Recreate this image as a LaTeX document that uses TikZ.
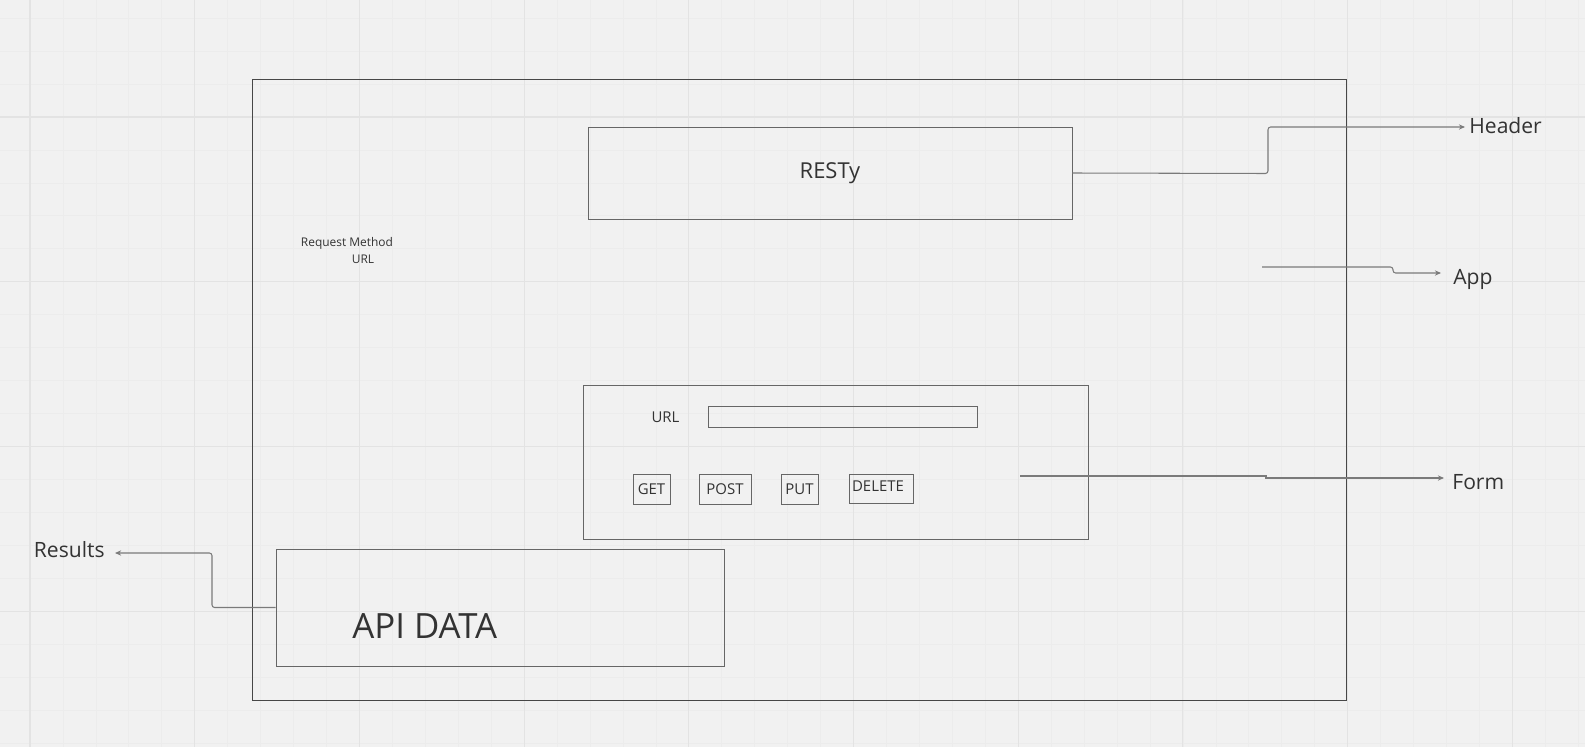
\documentclass[tikz,border=0pt]{standalone}
\usepackage{fontspec}
\setmainfont{Open Sans}
\usepackage{tikz}
\usetikzlibrary{positioning, arrows.meta}

\definecolor{bgcol}{HTML}{F1F1F1}
\definecolor{minorcol}{HTML}{ECECEC}
\definecolor{majorcol}{HTML}{E3E3E3}
\definecolor{boxcol}{HTML}{666666}
\definecolor{conncol}{HTML}{7A7A7A}
\definecolor{txtcol}{HTML}{333333}

\tikzset{
  box/.style={draw=boxcol, line width=0.5pt, inner sep=0pt},
  conn/.style={draw=conncol, line width=0.6pt, rounded corners=1.5pt, -{Stealth[length=3.5pt, width=3pt]}},
  lbl/.style={text=txtcol, inner sep=0pt, font=\fontsize{12}{14}\selectfont},
  small/.style={text=txtcol, inner sep=0pt, font=\fontsize{8.5}{10}\selectfont},
}

\begin{document}
\begin{tikzpicture}[x=0.02cm, y=-0.02cm]
    \useasboundingbox (0,0) rectangle (1585,747);
    % Draw background grid
    \fill[bgcol] (0,0) rectangle (1585,747);
    \foreach \i in {1,...,47} {
      \draw[minorcol, line width=0.4pt] ({30+\i*32.94},0) -- ({30+\i*32.94},747);
    }
    \foreach \i in {0,...,22} {
      \draw[minorcol, line width=0.4pt] (0,{18.2+\i*32.94}) -- (1585,{18.2+\i*32.94});
    }
    \foreach \i in {0,...,9} {
      \draw[majorcol, line width=0.6pt] ({30+\i*164.7},0) -- ({30+\i*164.7},747);
    }
    \foreach \i in {0,...,3} {
      \draw[majorcol, line width=0.6pt] (0,{117+\i*164.7}) -- (1585,{117+\i*164.7});
    }

    % App frame and header
    \node[box, draw=black!72, minimum width=21.9cm, minimum height=12.42cm] (appframe) at (799.5,389.5) {};
    \node[box, minimum width=9.68cm, minimum height=1.84cm, text=txtcol, font=\fontsize{12.5}{15}\selectfont] (resty) at (830,173) {RESTy};

    % Request method / URL note
    \node[text=txtcol, inner sep=0pt, font=\fontsize{6.8}{8}\selectfont] (reqmethod) at (347,243) {Request Method};
    \node[text=txtcol, inner sep=0pt, font=\fontsize{6.8}{8}\selectfont] (requrl) at (363,259) {URL};

    % Form with URL field and buttons
    \node[box, minimum width=10.1cm, minimum height=3.08cm] (form) at (835.5,462) {};
    \node[small] (urllabel) at (665.5,417) {URL};
    \node[box, minimum width=5.38cm, minimum height=0.42cm] (urlfield) at (842.5,416.5) {};
    \foreach \name/\x/\y/\w in {GET/651.5/489/0.74, POST/725/489/1.04, PUT/799.5/489/0.74} {
      \node[box, small, minimum width=\w cm, minimum height=0.6cm] (btn\name) at (\x,\y) {\name};
    }
    \node[box, minimum width=1.28cm, minimum height=0.58cm] (btnDELETE) at (881,488.5) {};
    \node[small] (deletetext) at (878,486.5) {DELETE};

    % Results box
    \node[box, minimum width=8.96cm, minimum height=2.34cm] (apidata) at (500,607.5) {};
    \node[text=txtcol, inner sep=0pt, anchor=west, font=\fontsize{19.8}{24}\selectfont] (apitext) at (352,626) {API DATA};

    % Labels outside
    \node[lbl, anchor=west] (header) at (1469,126) {Header};
    \node[lbl, anchor=west] (app) at (1453,279) {App};
    \node[lbl, anchor=west] (formlbl) at (1452,482) {Form};
    \node[lbl, anchor=east] (results) at (105,550) {Results};

    % Connectors
    \coordinate (headertip) at (1465,127);
    \coordinate (appstart) at (1262,267);
    \coordinate (apptip) at (1441,273);
    \coordinate (formstart) at (1020,476);
    \coordinate (formtip) at (1444,478);
    \coordinate (resultstip) at (115,553);
    \draw[conn] (resty.east) -- (1268,173.5) |- (headertip);
    \draw[conn] (appstart) -- (1393,267) |- (apptip);
    \draw[conn, sharp corners] (formstart) -- (1266,476) -- (1266,478) -- (formtip);
    \draw[conn] (apidata.west) -- (212,607.5) |- (resultstip);
\end{tikzpicture}
\end{document}
